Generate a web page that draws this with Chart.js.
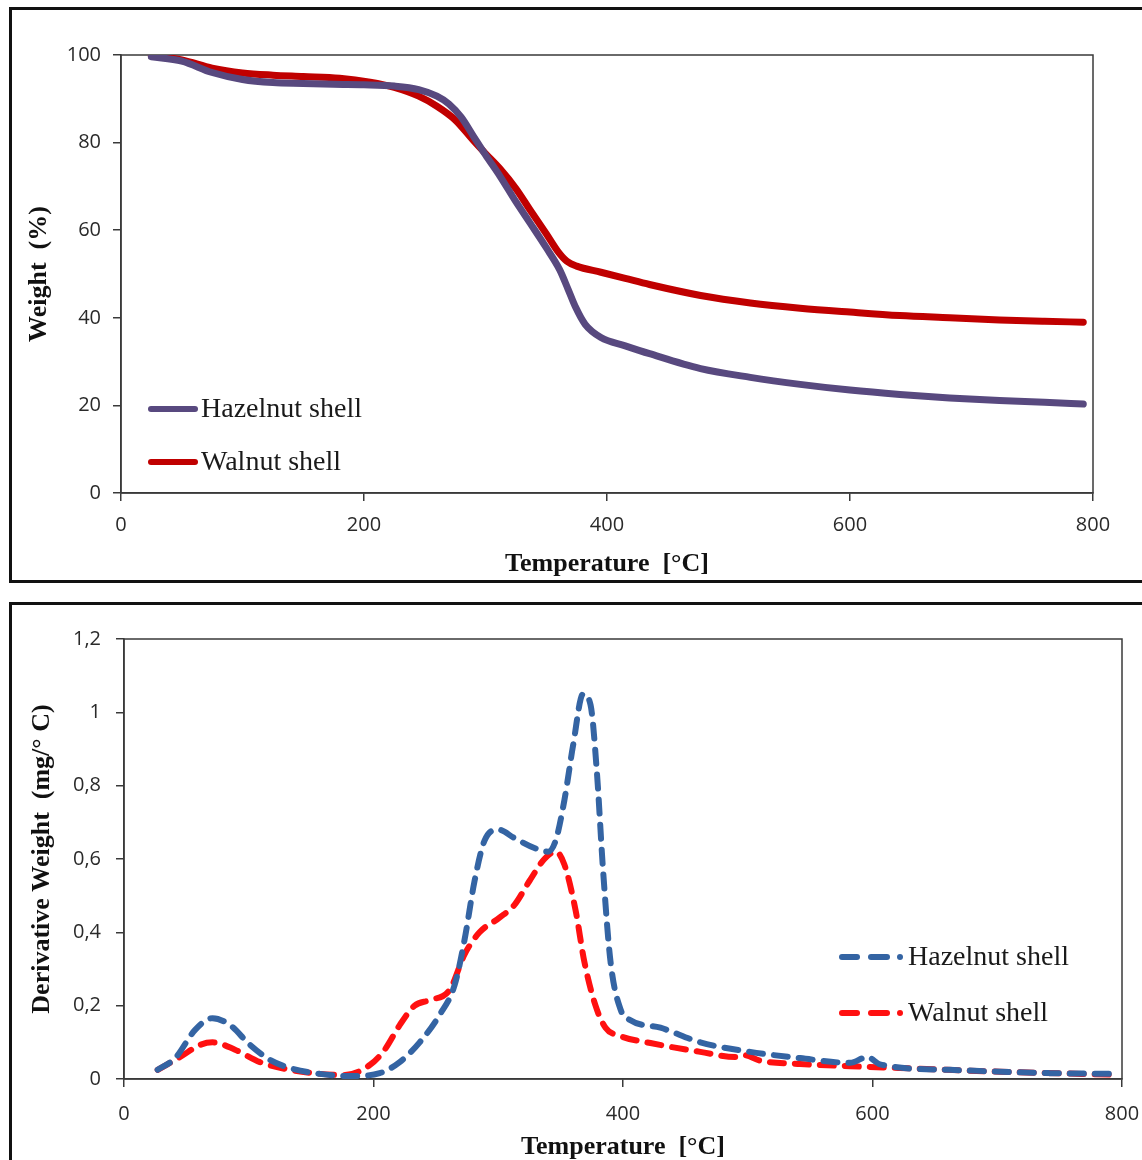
<!DOCTYPE html>
<html>
<head>
<meta charset="utf-8">
<script src="https://cdn.jsdelivr.net/npm/chart.js@4.4.1/dist/chart.umd.min.js"></script>
<style>
html,body{margin:0;padding:0;background:#fff;overflow:hidden;width:1142px;height:1160px;}
.box{position:absolute;border:3px solid #111;box-sizing:border-box;}
#box1{left:9px;top:7px;width:1160px;height:576px;}
#box2{left:9px;top:602px;width:1160px;height:600px;}
canvas{position:absolute;left:0;}
#c1{top:0;}
#c2{top:590px;}
</style>
</head>
<body>
<div class="box" id="box1"></div>
<div class="box" id="box2"></div>
<canvas id="c1" width="1142" height="590"></canvas>
<canvas id="c2" width="1142" height="580"></canvas>
<script>
// ---------- DATA ----------
// TGA (top chart): temperature [°C] and weight [%]
const hazelTgaT = [25,50,75,100,125,150,175,200,225,245,260,270,280,290,300,312,325,337,350,361,368,374,382,395,415,435,477,518,559,600,641,682,723,760,792];
const hazelTgaW = [99.6,98.6,96.0,94.4,93.7,93.5,93.3,93.2,92.9,92.1,90.6,88.8,85.8,81.5,77.2,72.3,66.5,61.5,56.0,51.0,46.5,42.5,38.5,35.5,33.6,31.8,28.4,26.4,24.8,23.5,22.5,21.7,21.1,20.7,20.3];
const walnutTgaT = [25,50,75,100,125,150,180,205,225,245,260,275,290,300,312,325,337,350,360,367,375,395,415,435,477,518,559,600,641,682,723,760,792];
const walnutTgaW = [99.8,98.9,97.0,95.9,95.4,95.1,94.7,93.8,92.6,90.6,88.3,85.2,80.5,77.5,74.0,69.5,64.5,59.2,55.0,52.9,51.8,50.4,49.0,47.6,45.1,43.4,42.2,41.3,40.5,40.0,39.5,39.2,39.0];

// DTG (bottom chart): temperature [°C] and derivative weight [mg/°C]
const hazelDtgT = [27,41,57,71,85,101,117,133,157,181,205,221,237,253,265,273,281,289,300,313,329,340,346,353,360,368,374,379,384,390,398,406,430,462,502,542,582,596,606,662,742,790];
const hazelDtgV = [0.025,0.057,0.134,0.166,0.147,0.093,0.052,0.03,0.014,0.008,0.016,0.046,0.10,0.175,0.256,0.38,0.54,0.65,0.68,0.657,0.63,0.62,0.65,0.76,0.91,1.05,1.02,0.84,0.57,0.32,0.19,0.16,0.14,0.10,0.074,0.057,0.044,0.06,0.04,0.025,0.016,0.014];
const walnutDtgT = [27,45,61,71,89,109,133,157,177,197,209,221,233,245,261,273,285,301,313,325,337,346,353,362,369,378,386,398,422,462,490,497,510,542,582,622,702,790];
const walnutDtgV = [0.025,0.06,0.093,0.10,0.08,0.046,0.025,0.014,0.011,0.038,0.08,0.147,0.20,0.215,0.243,0.34,0.40,0.44,0.475,0.54,0.60,0.62,0.585,0.46,0.32,0.20,0.14,0.117,0.098,0.074,0.06,0.065,0.05,0.041,0.035,0.03,0.02,0.012];

const seriesNames = ['Hazelnut shell', 'Walnut shell'];
const xTitle = 'Temperature  [°C]';
const yTitleTop = 'Weight  (%)';
const yTitleBottom = 'Derivative Weight  (mg/° C)';

// ---------- HELPERS ----------
const pts = (xs, ys) => xs.map((x, i) => ({x: x, y: ys[i]}));
const SERIF = '"Liberation Serif", "Times New Roman", serif';
const SANS = '"Open Sans", "DejaVu Sans", sans-serif';
const AXIS = '#3a3a3a';

const frame = {
  id: 'frame',
  beforeDatasetsDraw(chart) {
    const {ctx, chartArea: a} = chart;
    ctx.save();
    ctx.strokeStyle = AXIS;
    ctx.lineWidth = 1.5;
    ctx.strokeRect(a.left, a.top, a.right - a.left, a.bottom - a.top);
    ctx.restore();
  }
};

const inlineLegend = {
  id: 'inlineLegend',
  afterDatasetsDraw(chart, args, opts) {
    const ctx = chart.ctx;
    ctx.save();
    ctx.font = opts.font;
    ctx.textBaseline = 'middle';
    opts.items.forEach((it, i) => {
      const ds = chart.data.datasets[i];
      ctx.strokeStyle = ds.borderColor;
      ctx.fillStyle = ds.borderColor;
      ctx.lineWidth = opts.lineWidth;
      ctx.lineCap = 'round';
      if (opts.dashed) {
        [[it.x0 + 3, it.x0 + 18], [it.x0 + 32, it.x0 + 48]].forEach(s => {
          ctx.beginPath(); ctx.moveTo(s[0], it.y); ctx.lineTo(s[1], it.y); ctx.stroke();
        });
        ctx.beginPath(); ctx.arc(it.x0 + 61, it.y, 3, 0, Math.PI * 2); ctx.fill();
      } else {
        ctx.beginPath(); ctx.moveTo(it.x0 + 3, it.y); ctx.lineTo(it.x1 - 3, it.y); ctx.stroke();
      }
      ctx.fillStyle = '#1a1a1a';
      ctx.fillText(ds.label, it.tx, it.y + 1);
    });
    ctx.restore();
  }
};

function axisCommon(min, max, step, cb, tickPad) {
  return {
    type: 'linear', min: min, max: max,
    ticks: {stepSize: step, color: '#2a2a2a', font: {family: SANS, size: 20}, padding: tickPad, callback: cb},
    grid: {drawOnChartArea: false, drawTicks: true, tickLength: 8, color: AXIS, lineWidth: 1.5},
    border: {display: true, color: AXIS, width: 1.5}
  };
}

// ---------- TOP CHART (TGA) ----------
const xTop = axisCommon(0, 800, 200, v => String(v), 12);
xTop.title = {display: true, text: xTitle, color: '#111', font: {family: SERIF, size: 26, weight: 'bold'}, padding: {top: 0, bottom: 10}};
xTop.afterFit = s => { s.height = 97; };
const yTop = axisCommon(0, 100, 20, v => String(v), 12);
yTop.title = {display: true, text: yTitleTop, color: '#111', font: {family: SERIF, size: 26, weight: 'bold'}, padding: {top: 24, bottom: 0}};
yTop.afterFit = s => { s.width = 121; };

new Chart(document.getElementById('c1'), {
  type: 'line',
  data: {datasets: [
    {label: seriesNames[0], data: pts(hazelTgaT, hazelTgaW), borderColor: '#58497f', borderWidth: 7},
    {label: seriesNames[1], data: pts(walnutTgaT, walnutTgaW), borderColor: '#c00000', borderWidth: 7}
  ]},
  options: {
    responsive: false, animation: false, devicePixelRatio: 1,
    layout: {padding: {left: 0, right: 49, top: 55, bottom: 0}},
    elements: {point: {radius: 0}, line: {cubicInterpolationMode: 'monotone', borderCapStyle: 'round', borderJoinStyle: 'round'}},
    scales: {x: xTop, y: yTop},
    plugins: {
      legend: {display: false}, tooltip: {enabled: false},
      inlineLegend: {font: '28px ' + SERIF, lineWidth: 6, dashed: false,
        items: [{x0: 148, x1: 198, tx: 201, y: 409}, {x0: 148, x1: 198, tx: 201, y: 462}]}
    }
  },
  plugins: [frame, inlineLegend]
});

// ---------- BOTTOM CHART (DTG) ----------
const comma = v => Number(v.toFixed(1)).toString().replace('.', ',');
const xBot = axisCommon(0, 800, 200, v => String(v), 15);
xBot.title = {display: true, text: xTitle, color: '#111', font: {family: SERIF, size: 26, weight: 'bold'}, padding: {top: 0, bottom: 7}};
xBot.afterFit = s => { s.height = 91; s.paddingRight = 0; s.paddingLeft = 0; };
const yBot = axisCommon(0, 1.2, 0.2, comma, 15);
yBot.title = {display: true, text: yTitleBottom, color: '#111', font: {family: SERIF, size: 26, weight: 'bold'}, padding: {top: 27, bottom: 0}};
yBot.afterFit = s => { s.width = 124; };

new Chart(document.getElementById('c2'), {
  type: 'line',
  data: {datasets: [
    {label: seriesNames[0], data: pts(hazelDtgT, hazelDtgV), borderColor: '#3464a3', borderWidth: 6, borderDash: [14, 11]},
    {label: seriesNames[1], data: pts(walnutDtgT, walnutDtgV), borderColor: '#ff1010', borderWidth: 6, borderDash: [14, 11]}
  ]},
  options: {
    responsive: false, animation: false, devicePixelRatio: 1,
    layout: {padding: {left: 0, right: 20, top: 49, bottom: 0}},
    elements: {point: {radius: 0}, line: {cubicInterpolationMode: 'monotone', borderCapStyle: 'round', borderJoinStyle: 'round'}},
    scales: {x: xBot, y: yBot},
    plugins: {
      legend: {display: false}, tooltip: {enabled: false},
      inlineLegend: {font: '28px ' + SERIF, lineWidth: 6, dashed: true,
        items: [{x0: 839, x1: 905, tx: 908, y: 367}, {x0: 839, x1: 905, tx: 908, y: 423}]}
    }
  },
  plugins: [frame, inlineLegend]
});
</script>
</body>
</html>
